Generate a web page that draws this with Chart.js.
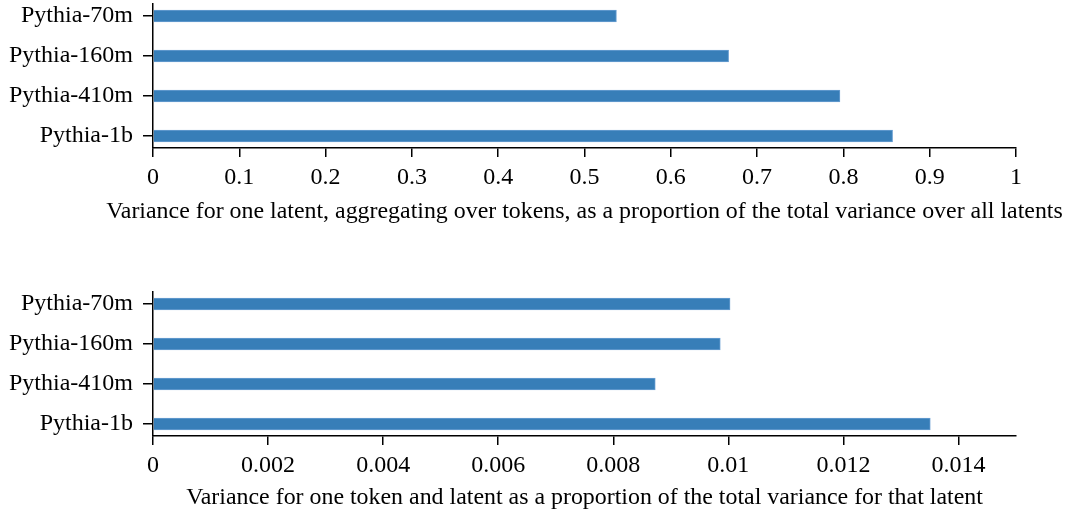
<!DOCTYPE html>
<html>
<head>
<meta charset="utf-8">
<script src="https://cdn.jsdelivr.net/npm/chart.js@4/dist/chart.umd.min.js"></script>
<style>
  html, body { margin: 0; padding: 0; background: #fff; }
  body { width: 1066px; height: 514px; position: relative; overflow: hidden; }
  canvas { position: absolute; left: 0; }
  #top { top: 0; }
  #bottom { top: 280px; }
</style>
</head>
<body>
<canvas id="top" width="1066" height="226"></canvas>
<canvas id="bottom" width="1066" height="232"></canvas>
<script>
const models = ['Pythia-70m', 'Pythia-160m', 'Pythia-410m', 'Pythia-1b']
const latentShare = [0.537, 0.667, 0.796, 0.857]
const tokenShare = [0.01003, 0.00986, 0.00873, 0.01351]
const latentTicks = [0, 0.1, 0.2, 0.3, 0.4, 0.5, 0.6, 0.7, 0.8, 0.9, 1]
const tokenTicks = [0, 0.002, 0.004, 0.006, 0.008, 0.01, 0.012, 0.014]
const latentTitle = 'Variance for one latent, aggregating over tokens, as a proportion of the total variance over all latents'
const tokenTitle = 'Variance for one token and latent as a proportion of the total variance for that latent'

const family = '"Liberation Serif", "Times New Roman", serif'
const tickFont = { family, size: 24 }

// the axis title is wider than the axis itself, so Chart.js would squeeze it;
// draw it centred under the x axis instead
const axisTitle = {
  id: 'axisTitle',
  afterDraw(chart, args, opts) {
    const s = chart.scales.x
    const ctx = chart.ctx
    ctx.save()
    ctx.font = opts.size + 'px ' + family
    ctx.fillStyle = '#000'
    ctx.textAlign = 'center'
    ctx.textBaseline = 'middle'
    ctx.fillText(opts.text, (s.left + s.right) / 2, s.bottom - opts.size * 0.6)
    ctx.restore()
  }
}

function makeChart(el, values, ticks, max, title, padTop, axisHeight) {
  return new Chart(el, {
    type: 'bar',
    data: {
      datasets: [
        {
          data: values.map((v, i) => ({ x: v, y: i })),
          backgroundColor: '#377eb8',
          borderColor: '#6a9fd2',
          borderWidth: 1,
          barThickness: 12
        }
      ]
    },
    plugins: [axisTitle],
    options: {
      indexAxis: 'y',
      responsive: false,
      animation: false,
      layout: { padding: { left: 0, right: 50, top: padTop, bottom: 0 } },
      plugins: {
        legend: { display: false },
        tooltip: { enabled: false },
        axisTitle: { text: title, size: 23.9 }
      },
      scales: {
        y: {
          type: 'linear',
          reverse: true,
          offset: false,
          min: -0.3,
          max: 3.3,
          afterBuildTicks: s => { s.ticks = models.map((_, i) => ({ value: i })) },
          afterFit: s => {
            s.width = 153
            s.paddingTop = 0
            s.paddingBottom = 0
          },
          ticks: { color: '#000', font: tickFont, padding: 10, autoSkip: false, callback: v => models[v] },
          grid: { offset: false, drawOnChartArea: false, tickLength: 10, color: '#000', lineWidth: 1.5 },
          border: { display: true, color: '#000', width: 1.5 }
        },
        x: {
          type: 'linear',
          min: 0,
          max: max,
          afterBuildTicks: s => { s.ticks = ticks.map(v => ({ value: v })) },
          afterFit: s => { s.height = axisHeight },
          ticks: { color: '#000', font: tickFont, padding: 6, maxRotation: 0, autoSkip: false, callback: v => String(v) },
          grid: { drawOnChartArea: false, tickLength: 9, color: '#000', lineWidth: 1.5 },
          border: { display: true, color: '#000', width: 1.5 }
        }
      }
    }
  })
}

makeChart(document.getElementById('top'), latentShare, latentTicks, 1, latentTitle, 4, 78)
makeChart(document.getElementById('bottom'), tokenShare, tokenTicks, 0.015, tokenTitle, 12, 76)
</script>
</body>
</html>
